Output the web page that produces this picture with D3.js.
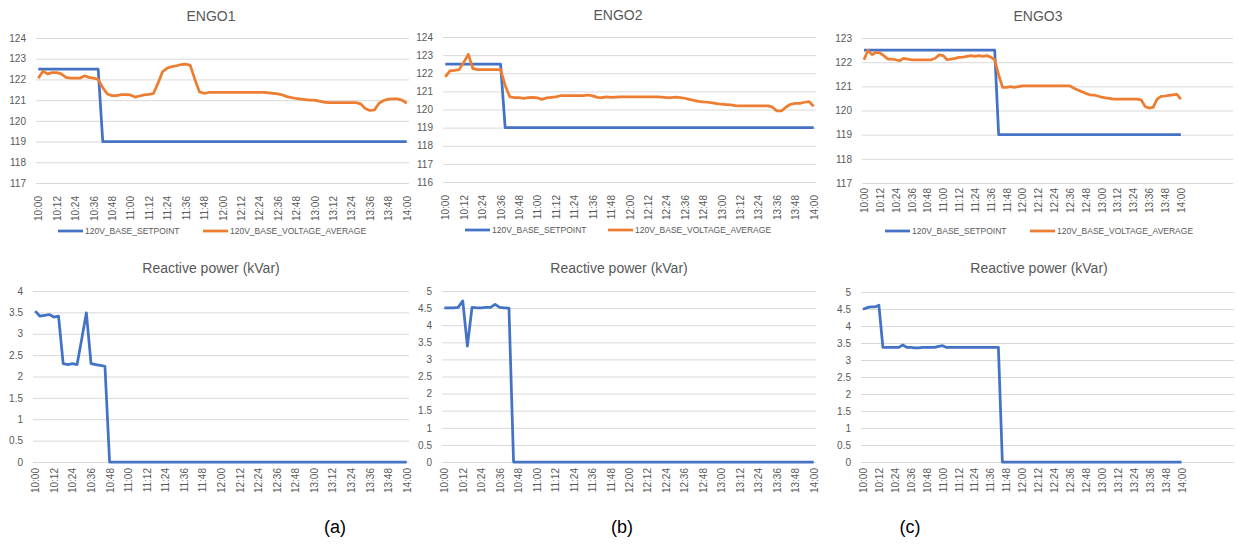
<!DOCTYPE html>
<html>
<head>
<meta charset="utf-8">
<script src="https://cdn.jsdelivr.net/npm/d3@7"></script>
<style>
  body { margin: 0; background: #fff; }
  text { font-family: "Liberation Sans", Arial, sans-serif; }
</style>
</head>
<body>
<script>
// categories: one sample every 3 minutes, 10:00 .. 14:00
var minutes = d3.range(0, 241, 3);
var tickLabels = ["10:00","10:12","10:24","10:36","10:48","11:00","11:12","11:24","11:36","11:48",
                  "12:00","12:12","12:24","12:36","12:48","13:00","13:12","13:24","13:36","13:48","14:00"];
var seriesNames = ["120V_BASE_SETPOINT", "120V_BASE_VOLTAGE_AVERAGE"];

var engo1Setpoint = [122.5,122.5,122.5,122.5,122.5,122.5,122.5,122.5,122.5,122.5,
  122.5,122.5,122.5,122.5,119,119,119,119,119,119,
  119,119,119,119,119,119,119,119,119,119,
  119,119,119,119,119,119,119,119,119,119,
  119,119,119,119,119,119,119,119,119,119,
  119,119,119,119,119,119,119,119,119,119,
  119,119,119,119,119,119,119,119,119,119,
  119,119,119,119,119,119,119,119,119,119,
  119];
var engo1Voltage = [122.06,122.4,122.27,122.33,122.33,122.27,122.1,122.06,122.06,122.06,
  122.17,122.1,122.06,122.0,121.6,121.3,121.22,121.22,121.27,121.27,
  121.25,121.15,121.2,121.25,121.28,121.32,121.82,122.38,122.55,122.62,
  122.66,122.72,122.74,122.68,122.0,121.4,121.33,121.37,121.37,121.38,
  121.37,121.37,121.37,121.37,121.37,121.37,121.37,121.37,121.37,121.37,
  121.35,121.33,121.3,121.25,121.17,121.12,121.08,121.05,121.03,121.0,
  121.0,120.95,120.9,120.88,120.88,120.88,120.88,120.88,120.88,120.88,
  120.82,120.6,120.5,120.53,120.85,120.98,121.05,121.06,121.06,121.0,
  120.85];

var engo2Setpoint = [122.5,122.5,122.5,122.5,122.5,122.5,122.5,122.5,122.5,122.5,
  122.5,122.5,122.5,119,119,119,119,119,119,119,
  119,119,119,119,119,119,119,119,119,119,
  119,119,119,119,119,119,119,119,119,119,
  119,119,119,119,119,119,119,119,119,119,
  119,119,119,119,119,119,119,119,119,119,
  119,119,119,119,119,119,119,119,119,119,
  119,119,119,119,119,119,119,119,119,119,
  119];
var engo2Voltage = [121.8,122.13,122.16,122.2,122.6,123.04,122.25,122.2,122.2,122.2,
  122.2,122.2,122.2,121.33,120.7,120.65,120.65,120.62,120.65,120.67,
  120.64,120.56,120.64,120.67,120.7,120.76,120.76,120.76,120.76,120.76,
  120.76,120.8,120.75,120.67,120.65,120.7,120.67,120.68,120.69,120.69,
  120.69,120.69,120.69,120.69,120.69,120.69,120.69,120.68,120.66,120.66,
  120.68,120.66,120.62,120.56,120.5,120.45,120.42,120.4,120.36,120.32,
  120.29,120.27,120.25,120.21,120.2,120.2,120.2,120.2,120.2,120.2,
  120.2,120.14,119.92,119.92,120.14,120.29,120.34,120.34,120.4,120.43,
  120.18];

var engo3Setpoint = [122.5,122.5,122.5,122.5,122.5,122.5,122.5,122.5,122.5,122.5,
  122.5,122.5,122.5,122.5,122.5,122.5,122.5,122.5,122.5,122.5,
  122.5,122.5,122.5,122.5,122.5,122.5,122.5,122.5,122.5,122.5,
  122.5,122.5,122.5,122.5,119,119,119,119,119,119,
  119,119,119,119,119,119,119,119,119,119,
  119,119,119,119,119,119,119,119,119,119,
  119,119,119,119,119,119,119,119,119,119,
  119,119,119,119,119,119,119,119,119,119,
  119];
var engo3Voltage = [122.1,122.49,122.31,122.4,122.38,122.27,122.13,122.13,122.1,122.06,
  122.16,122.13,122.1,122.1,122.1,122.1,122.1,122.1,122.16,122.3,
  122.27,122.1,122.13,122.16,122.2,122.21,122.24,122.27,122.24,122.27,
  122.24,122.27,122.21,122.1,121.48,120.96,120.96,120.99,120.96,120.99,
  121.02,121.02,121.02,121.02,121.02,121.02,121.02,121.02,121.02,121.02,
  121.02,121.02,121.02,120.92,120.85,120.78,120.71,120.65,120.64,120.6,
  120.55,120.52,120.5,120.47,120.47,120.47,120.47,120.47,120.47,120.47,
  120.44,120.16,120.1,120.13,120.47,120.58,120.6,120.63,120.65,120.67,
  120.47];

var engo1Reactive = [3.53,3.41,3.43,3.45,3.39,3.41,2.3,2.28,2.3,2.28,
  2.88,3.49,2.3,2.28,2.26,2.24,0,0,0,0,
  0,0,0,0,0,0,0,0,0,0,
  0,0,0,0,0,0,0,0,0,0,
  0,0,0,0,0,0,0,0,0,0,
  0,0,0,0,0,0,0,0,0,0,
  0,0,0,0,0,0,0,0,0,0,
  0,0,0,0,0,0,0,0,0,0,
  0];
var engo2Reactive = [4.51,4.51,4.51,4.52,4.71,3.39,4.52,4.51,4.51,4.52,
  4.52,4.61,4.52,4.51,4.5,0,0,0,0,0,
  0,0,0,0,0,0,0,0,0,0,
  0,0,0,0,0,0,0,0,0,0,
  0,0,0,0,0,0,0,0,0,0,
  0,0,0,0,0,0,0,0,0,0,
  0,0,0,0,0,0,0,0,0,0,
  0,0,0,0,0,0,0,0,0,0,
  0];
var engo3Reactive = [4.49,4.54,4.56,4.56,4.61,3.37,3.37,3.37,3.37,3.37,
  3.44,3.37,3.37,3.36,3.36,3.37,3.37,3.37,3.37,3.4,
  3.42,3.37,3.37,3.37,3.37,3.37,3.37,3.37,3.37,3.37,
  3.37,3.37,3.37,3.37,3.37,0,0,0,0,0,
  0,0,0,0,0,0,0,0,0,0,
  0,0,0,0,0,0,0,0,0,0,
  0,0,0,0,0,0,0,0,0,0,
  0,0,0,0,0,0,0,0,0,0,
  0];

var blue = "#4472C4", orange = "#ED7D31", grid = "#d9d9d9", label = "#595959";

var svg = d3.select("body").append("svg")
  .attr("width", 1238)
  .attr("height", 548);

// extra = empty categories (minutes) after 14:00 on the ENGO3 axes
var panels = [
  {title: "ENGO1", tx: 211, ty: 21, x0: 36, x1: 409, yt: 38, yb: 183, dom: [117, 124], step: 1, extra: 0, pad: 13,
   series: [[engo1Setpoint, blue], [engo1Voltage, orange]], legend: [58, 203], ly: 231},
  {title: "ENGO2", tx: 618, ty: 20, x0: 443, x1: 816, yt: 37, yb: 182, dom: [116, 124], step: 1, extra: 0, pad: 13,
   series: [[engo2Setpoint, blue], [engo2Voltage, orange]], legend: [465, 608], ly: 230},
  {title: "ENGO3", tx: 1038, ty: 21, x0: 862, x1: 1233, yt: 38, yb: 183, dom: [117, 123], step: 1, extra: 38, pad: 5,
   series: [[engo3Setpoint, blue], [engo3Voltage, orange]], legend: [885, 1030], ly: 231},
  {title: "Reactive power (kVar)", tx: 211, ty: 273, x0: 33, x1: 409, yt: 291, yb: 462, dom: [0, 4], step: 0.5, extra: 0, pad: 6,
   series: [[engo1Reactive, blue]]},
  {title: "Reactive power (kVar)", tx: 619, ty: 273, x0: 442, x1: 816, yt: 291, yb: 462, dom: [0, 5], step: 0.5, extra: 0, pad: 6,
   series: [[engo2Reactive, blue]]},
  {title: "Reactive power (kVar)", tx: 1039, ty: 273, x0: 861, x1: 1234, yt: 292, yb: 462, dom: [0, 5], step: 0.5, extra: 38, pad: 6,
   series: [[engo3Reactive, blue]]}
];

panels.forEach(function (p) {
  var g = svg.append("g");
  var x = d3.scaleLinear().domain([-1.5, 241.5 + p.extra]).range([p.x0, p.x1]);
  var y = d3.scaleLinear().domain(p.dom).range([p.yb, p.yt]);

  var yTicks = d3.range(p.dom[0], p.dom[1] + p.step / 2, p.step);
  var yAxis = g.append("g")
    .attr("transform", "translate(" + p.x0 + ",0)")
    .call(d3.axisLeft(y).tickValues(yTicks).tickSize(-(p.x1 - p.x0)).tickPadding(10)
      .tickFormat(function (d) { return String(+d.toFixed(1)); }));
  yAxis.select(".domain").remove();
  yAxis.selectAll("line").attr("stroke", grid).attr("stroke-width", 1);
  yAxis.selectAll("text").attr("fill", label).style("font-size", "10px");

  var xAxis = g.append("g")
    .attr("transform", "translate(0," + p.yb + ")")
    .call(d3.axisBottom(x).tickValues(d3.range(0, 241, 12)).tickSize(0)
      .tickFormat(function (d, i) { return tickLabels[i]; }));
  xAxis.select(".domain").remove();
  xAxis.selectAll("text")
    .attr("fill", label)
    .style("font-size", "10px")
    .style("text-anchor", "end")
    .attr("transform", "rotate(-90)")
    .attr("x", -p.pad)
    .attr("y", 0)
    .attr("dy", "0.35em");

  var line = d3.line()
    .x(function (d, i) { return x(minutes[i]); })
    .y(function (d) { return y(d); });

  p.series.forEach(function (s) {
    g.append("path")
      .attr("d", line(s[0]))
      .attr("fill", "none")
      .attr("stroke", s[1])
      .attr("stroke-width", 2.75)
      .attr("stroke-linejoin", "round");
  });

  g.append("text")
    .attr("x", p.tx)
    .attr("y", p.ty)
    .attr("text-anchor", "middle")
    .attr("fill", label)
    .style("font-size", "14px")
    .text(p.title);

  if (p.legend) {
    p.legend.forEach(function (lx, i) {
      g.append("line")
        .attr("x1", lx).attr("x2", lx + 25)
        .attr("y1", p.ly).attr("y2", p.ly)
        .attr("stroke", p.series[i][1])
        .attr("stroke-width", 2.75);
      g.append("text")
        .attr("x", lx + 27)
        .attr("y", p.ly)
        .attr("dy", "0.35em")
        .attr("fill", label)
        .style("font-size", "8.5px")
        .text(seriesNames[i]);
    });
  }
});

// sub-figure captions
var captions = [["(a)", 335], ["(b)", 622], ["(c)", 910]];
svg.selectAll(".caption")
  .data(captions)
  .enter()
  .append("text")
    .classed("caption", true)
    .attr("x", function (d) { return d[1]; })
    .attr("y", 533)
    .attr("text-anchor", "middle")
    .attr("fill", "#000")
    .style("font-size", "18px")
    .text(function (d) { return d[0]; });
</script>
</body>
</html>
